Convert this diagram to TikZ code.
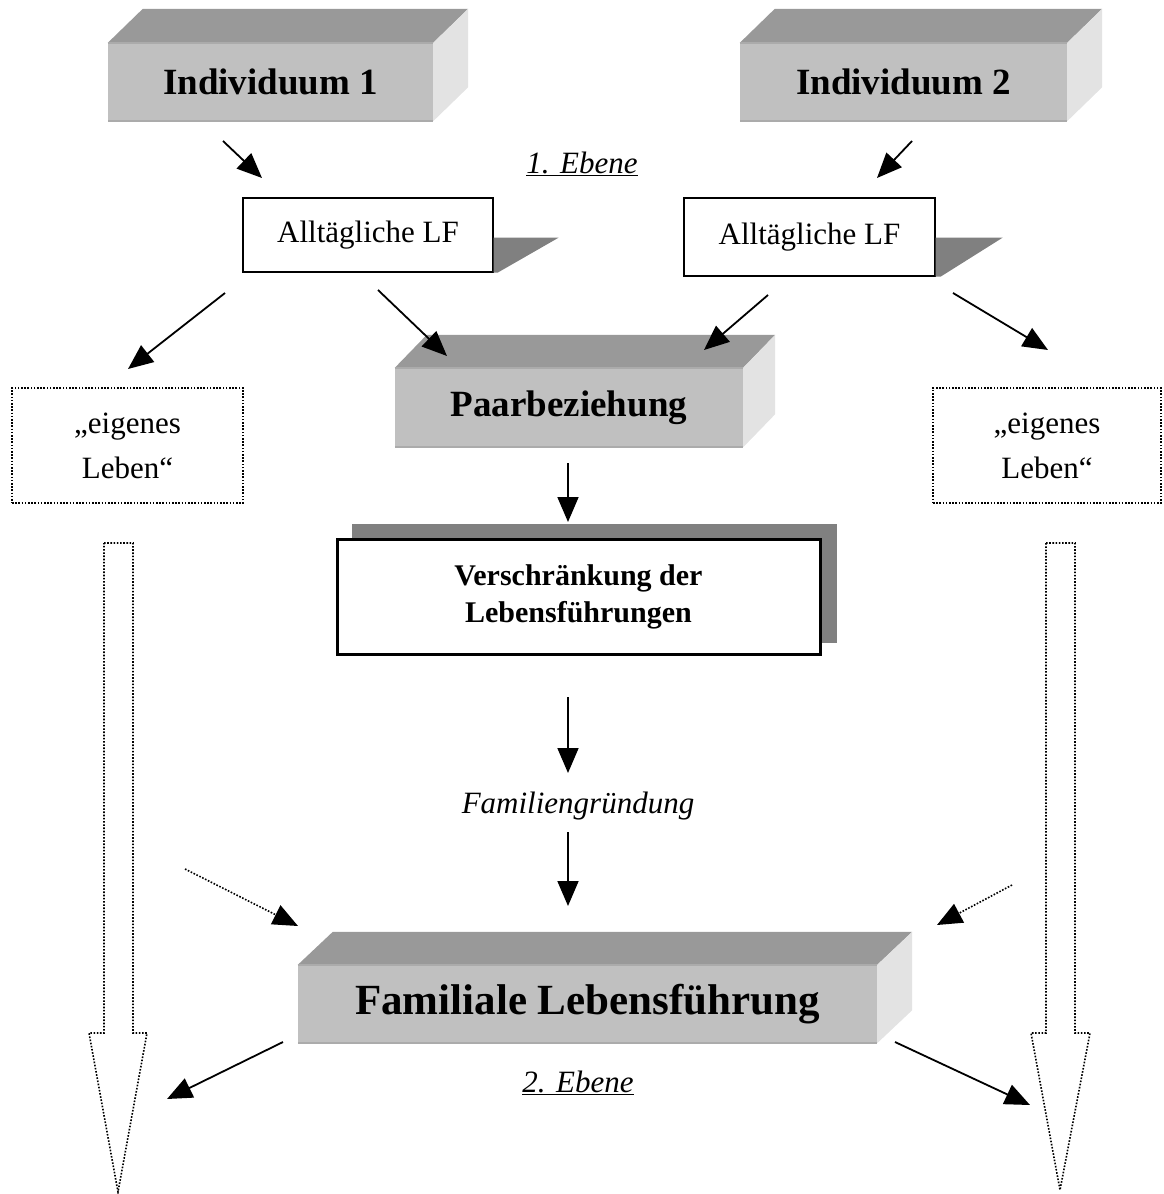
\documentclass[tikz,border=0pt]{standalone}
\usepackage{fontspec}
\setmainfont{Liberation Serif}
\usetikzlibrary{arrows.meta,calc}
\definecolor{topc}{HTML}{999999}
\definecolor{frontc}{HTML}{C0C0C0}
\definecolor{sidec}{HTML}{E3E3E3}
\definecolor{edgec}{HTML}{ABABAB}
\definecolor{shadc}{HTML}{808080}
\newcommand\mycuboid[3]{%
  \fill[topc] (#1.north west) -- ++(#2,-#3) -- ($(#1.north east)+(#2,-#3)$) -- (#1.north east) -- cycle;
  \fill[sidec] (#1.north east) -- ++(#2,-#3) -- ($(#1.south east)+(#2,-#3)$) -- (#1.south east) -- cycle;
  \draw[edgec, line width=1.5pt] (#1.north west) -- (#1.north east) (#1.south west) -- (#1.south east);
}
\begin{document}
\begin{tikzpicture}[x=1pt,y=-1pt,
  front/.style={fill=frontc, inner sep=0pt, font=\fontsize{37}{44}\selectfont\bfseries},
  plainbox/.style={draw, line width=1.3pt, fill=white, inner sep=0pt, font=\fontsize{31}{37}\selectfont},
  dotbox/.style={draw, line width=1.5pt, dash pattern=on 1.6pt off 1.6pt, inner sep=0pt, align=center, font=\fontsize{31}{45}\selectfont},
  arr/.style={line width=1.8pt, -{Triangle[length=25pt,width=21pt]}},
  dotarr/.style={line width=1.6pt, dash pattern=on 1.6pt off 1.6pt, -{Triangle[length=25pt,width=21pt]}},
  bigarr/.style={line width=1.6pt, dash pattern=on 1.6pt off 1.6pt},
  lbl/.style={inner sep=0pt, font=\fontsize{31}{37}\selectfont\itshape},
]
\useasboundingbox (0,0) rectangle (1163,1194);

% 3D boxes
\node[front, minimum width=325pt, minimum height=78pt] (ind1) at (270.5,82) {Individuum 1};
\mycuboid{ind1}{35}{34}
\node[front, minimum width=327pt, minimum height=78pt] (ind2) at (903.5,82) {Individuum 2};
\mycuboid{ind2}{35}{34}
\node[front, minimum width=348pt, minimum height=79pt] (paar) at (569,407.5) {Paarbeziehung};
\mycuboid{paar}{32}{33}
\node[front, minimum width=579pt, minimum height=78pt, font=\fontsize{43}{50}\selectfont\bfseries] (fam) at (587.5,1004) {Familiale Lebensführung};
\mycuboid{fam}{35}{33}

% Alltaegliche LF boxes with shadows
\node[plainbox, minimum width=250pt, minimum height=74pt] (alf1) at (368,235) {Alltägliche LF};
\fill[shadc] ($(alf1.south east)+(0,-35)$) -- ++(65,0) -- ($(alf1.south east)+(4,0)$) -- (alf1.south east) -- cycle;
\node[plainbox, minimum width=251pt, minimum height=78pt] (alf2) at (809.5,237) {Alltägliche LF};
\fill[shadc] ($(alf2.south east)+(0,-39)$) -- ++(67,0) -- ($(alf2.south east)+(5,0)$) -- (alf2.south east) -- cycle;

% eigenes Leben
\node[dotbox, minimum width=231pt, minimum height=115pt] (eig1) at (127.5,445.5) {„eigenes\\Leben“};
\node[dotbox, minimum width=228pt, minimum height=115pt] (eig2) at (1047,445.5) {„eigenes\\Leben“};

% Verschraenkung
\fill[shadc] (352,524) rectangle (837,643);
\node[draw, line width=3pt, fill=white, inner sep=0pt, minimum width=483pt, minimum height=115pt, align=center, font=\fontsize{30}{37}\selectfont\bfseries] (vers) at (578.5,597) {Verschränkung der\\Lebensführungen};

% labels
\node[lbl] (eb1) at (582,164) {\underline{1. Ebene}};
\node[lbl] (famg) at (578,806) {Familiengründung};
\node[lbl] (eb2) at (578,1083) {\underline{2. Ebene}};

% arrow end points
\coordinate (a1s) at (223,141); \coordinate (a1e) at (262,178);
\coordinate (a2s) at (912,141); \coordinate (a2e) at (877,178);
\coordinate (a3s) at (225,293); \coordinate (a3e) at (128,369);
\coordinate (a4s) at (378,290); \coordinate (a4e) at (447,356);
\coordinate (a5s) at (768,295); \coordinate (a5e) at (704,350);
\coordinate (a6s) at (953,293); \coordinate (a6e) at (1048,350);
\coordinate (a7s) at (568,463); \coordinate (a7e) at (568,522);
\coordinate (a8s) at (568,697); \coordinate (a8e) at (568,773);
\coordinate (a9s) at (568,832); \coordinate (a9e) at (568,906);
\coordinate (d1s) at (185,869); \coordinate (d1e) at (298,926);
\coordinate (d2s) at (1012,885); \coordinate (d2e) at (937,925);
\coordinate (b1s) at (283,1042); \coordinate (b1e) at (167,1099);
\coordinate (b2s) at (895,1042); \coordinate (b2e) at (1030,1105);

\draw[arr] (a1s) -- (a1e);
\draw[arr] (a2s) -- (a2e);
\draw[arr] (a3s) -- (a3e);
\draw[arr] (a4s) -- (a4e);
\draw[arr] (a5s) -- (a5e);
\draw[arr] (a6s) -- (a6e);
\draw[arr] (a7s) -- (a7e);
\draw[arr] (a8s) -- (a8e);
\draw[arr] (a9s) -- (a9e);
\draw[dotarr] (d1s) -- (d1e);
\draw[dotarr] (d2s) -- (d2e);
\draw[arr] (b1s) -- (b1e);
\draw[arr] (b2s) -- (b2e);

% big hollow dotted arrows
\draw[bigarr] (104,543) -- (133,543) -- (133,1033) -- (147,1033) -- (118,1192) -- (89,1033) -- (104,1033) -- cycle;
\draw[bigarr] (1046,543) -- (1075,543) -- (1075,1033) -- (1090,1033) -- (1060,1190) -- (1031,1033) -- (1046,1033) -- cycle;
\end{tikzpicture}
\end{document}
